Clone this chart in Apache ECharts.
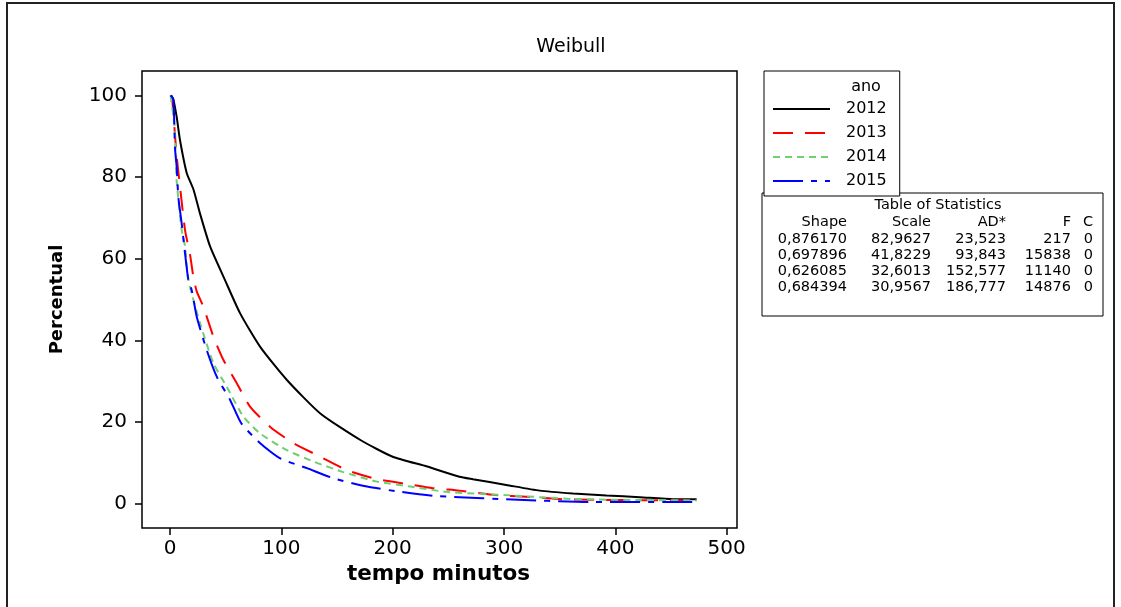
<!DOCTYPE html>
<html><head><meta charset="utf-8">
<script src="https://cdn.jsdelivr.net/npm/echarts@6/dist/echarts.min.js"></script>
<style>html,body{margin:0;padding:0;background:#fff}#c{width:1121px;height:607px}</style>
</head><body><div id="c"></div>
<script>
// ---- data ----
const chartTitle = 'Weibull';
const legendTitle = 'ano';
const years = ['2012', '2013', '2014', '2015'];
const s2012 = [[1,100],[3,99],[6,94.7],[9,89],[15,81],[21,77],[27,71],[36,63],[49,55],[63,46.6],[81,38.4],[105,30.3],[135,22.1],[171,15.6],[200,11.5],[231,9.1],[260,6.6],[272,6.0],[302,4.6],[332,3.2],[362,2.5],[392,2.0],[422,1.6],[452,1.1],[473,1.1]];
const s2013 = [[1,100],[2,99],[4,92],[6,85],[9,77.6],[13.5,67],[18,61],[21,55.5],[24,52],[30,48.2],[39,40.9],[48,35.2],[60,29.5],[72,23.7],[90,18.8],[111,14.8],[135,11.5],[159,8.2],[186,6.0],[213,4.8],[236,3.8],[260,3.2],[293,2.1],[320,1.7],[353,1.1],[398,0.9],[473,0.8]];
const s2014 = [[0.5,100],[3,95],[4.5,91],[6,79],[10.5,67],[13.5,63],[16.5,54.8],[27,44.2],[39,34.4],[51,28.6],[66,21.3],[81,17.2],[105,13.1],[129,10.3],[155,7.8],[186,5.4],[216,4.2],[248,2.9],[302,2.1],[362,1.15],[422,0.9],[473,0.8]];
const s2015 = [[0.5,100],[3,99],[4.5,87],[6,82.5],[7.5,75],[10.5,68.6],[13.5,61.3],[16.5,54.8],[19.5,52.3],[24,45.8],[33,37.6],[42,31.1],[54,25.4],[64,19.7],[81,14.8],[99,11.1],[123,8.7],[147,6.2],[177,4.2],[207,2.9],[237,1.9],[260,1.6],[302,1.1],[377,0.4],[473,0.4]];
const xTicks = [0, 100, 200, 300, 400, 500];
const yTicks = [0, 20, 40, 60, 80, 100];
const xRange = [-25.15, 509.25];
const yRange = [-5.95, 105.95];
const xName = 'tempo minutos';
const yName = 'Percentual';
const tableTitle = 'Table of Statistics';
const tableHeader = ['Shape', 'Scale', 'AD*', 'F', 'C'];
const colShape = ['0,876170', '0,697896', '0,626085', '0,684394'];
const colScale = ['82,9627', '41,8229', '32,6013', '30,9567'];
const colAD = ['23,523', '93,843', '152,577', '186,777'];
const colF = ['217', '15838', '11140', '14876'];
const colC = ['0', '0', '0', '0'];

// ---- styles ----
const seriesData = [s2012, s2013, s2014, s2015];
const colors = ['#000000', '#ff0000', '#6fcf6f', '#0000ff'];
const dashes = ['solid', [20, 12], [7, 5], [30, 8, 6, 8]];
const FONT = 'DejaVu Sans';

const chart = echarts.init(document.getElementById('c'), null, {renderer: 'canvas'});

const colRight = [847, 931, 1006, 1071, 1093];
const rowY = [205, 222, 239, 255, 271, 287];
const tableCols = [colShape, colScale, colAD, colF, colC];
const TF = '14.5px ' + FONT;
const tableEls = [];
tableEls.push({type: 'rect', shape: {x: 762, y: 193, width: 341, height: 123}, style: {fill: '#fff', stroke: '#000', lineWidth: 1}});
tableEls.push({type: 'text', x: 938, y: rowY[0], style: {text: tableTitle, font: TF, fill: '#000', textAlign: 'center', textVerticalAlign: 'middle'}});
tableHeader.forEach((h, c) => {
  tableEls.push({type: 'text', x: colRight[c], y: rowY[1], style: {text: h, font: TF, fill: '#000', textAlign: 'right', textVerticalAlign: 'middle'}});
});
for (let r = 0; r < 4; r++) {
  tableCols.forEach((col, c) => {
    tableEls.push({type: 'text', x: colRight[c], y: rowY[r + 2], style: {text: col[r], font: TF, fill: '#000', textAlign: 'right', textVerticalAlign: 'middle'}});
  });
}

const option = {
  animation: false,
  backgroundColor: '#fff',
  title: {text: chartTitle, left: 566, top: 33, textAlign: 'center',
    textStyle: {fontFamily: FONT, fontSize: 19, fontWeight: 'normal', color: '#000'}},
  grid: {left: 142, top: 71, width: 595, height: 457, containLabel: false,
    show: true, borderColor: '#000', borderWidth: 1.5, backgroundColor: '#fff'},
  xAxis: {
    type: 'value', min: xRange[0], max: xRange[1],
    axisLine: {show: false, onZero: false},
    axisTick: {show: true, inside: false, length: 7, customValues: xTicks, lineStyle: {color: '#000', width: 1.5}},
    splitLine: {show: false},
    axisLabel: {margin: 11, customValues: xTicks, fontFamily: FONT, fontSize: 20, color: '#000'},
    name: xName, nameLocation: 'middle', nameGap: 35,
    nameTextStyle: {fontFamily: FONT, fontSize: 21.5, fontWeight: 'bold', color: '#000', padding: [0, 2, 0, 0]}
  },
  yAxis: {
    type: 'value', min: yRange[0], max: yRange[1],
    axisLine: {show: false, onZero: false},
    axisTick: {show: true, inside: false, length: 7, customValues: yTicks, lineStyle: {color: '#000', width: 1.5}},
    splitLine: {show: false},
    axisLabel: {margin: 15, customValues: yTicks, fontFamily: FONT, fontSize: 20, color: '#000'},
    name: yName, nameLocation: 'middle', nameGap: 76,
    nameTextStyle: {fontFamily: FONT, fontSize: 18, fontWeight: 'bold', color: '#000'}
  },
  legend: {
    orient: 'vertical', left: 764, top: 71, data: years,
    itemWidth: 57, itemHeight: 14, itemGap: 8,
    padding: [30, 13, 7, 8],
    borderColor: '#000', borderWidth: 1, backgroundColor: '#fff',
    itemStyle: {opacity: 0},
    textStyle: {fontFamily: FONT, fontSize: 16, color: '#000', padding: [0, 0, 0, 11], lineHeight: 14}
  },
  graphic: [
    {type: 'rect', shape: {x: 7, y: 3, width: 1107, height: 612}, style: {fill: 'none', stroke: '#222', lineWidth: 2}, z: 100},
    {type: 'text', x: 866, y: 87, style: {text: legendTitle, font: '16px ' + FONT, fill: '#000', textAlign: 'center', textVerticalAlign: 'middle'}, z: 100},
    {type: 'group', children: tableEls, z: 100}
  ],
  series: years.map((y, i) => ({
    name: y, type: 'line', data: seriesData[i], symbol: 'none', showSymbol: false, clip: false,
    smooth: 0.2,
    lineStyle: {color: colors[i], width: 2, type: dashes[i]},
    itemStyle: {color: colors[i]}
  }))
};
chart.setOption(option);
</script></body></html>
